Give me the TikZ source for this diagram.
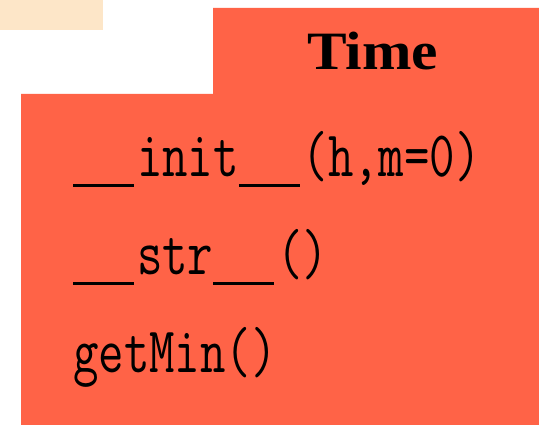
\documentclass[tikz,border=0pt]{standalone}
\usepackage{fontspec}
\newfontfamily\titlefont{Liberation Serif}
\definecolor{peach}{RGB}{253,230,200}
\definecolor{tomatored}{RGB}{255,99,71}
\newcommand\dunder{\rule[-10pt]{80pt}{3pt}\hspace{4pt}}
\newcommand\narrowtt[1]{\scalebox{0.76}[1]{#1}}
\newcommand\widetitle[1]{\scalebox{1.1}[1]{#1}}
\begin{document}
\begin{tikzpicture}[x=1pt,y=-1pt,
  method/.style={anchor=base west,inner sep=0pt,font=\fontsize{65}{65}\ttfamily\selectfont},
  title/.style={anchor=base,inner sep=0pt,font=\fontsize{54}{54}\titlefont\bfseries\selectfont}]
\useasboundingbox (0,0) rectangle (539,425);
\fill[white] (0,0) rectangle (539,425);
\fill[peach] (0,0) rectangle (103,30);
\fill[tomatored] (213,8) -- (539,8) -- (539,425) -- (21,425) -- (21,94) -- (213,94) -- cycle;
\node[title] (t) at (372.5,70) {\widetitle{Time}};
\node[method] (m1) at (73,177) {\narrowtt{\dunder init\dunder(h,m=0)}};
\node[method] (m2) at (73,275) {\narrowtt{\dunder str\dunder()}};
\node[method] (m3) at (73,373) {\narrowtt{getMin()}};
\end{tikzpicture}
\end{document}
